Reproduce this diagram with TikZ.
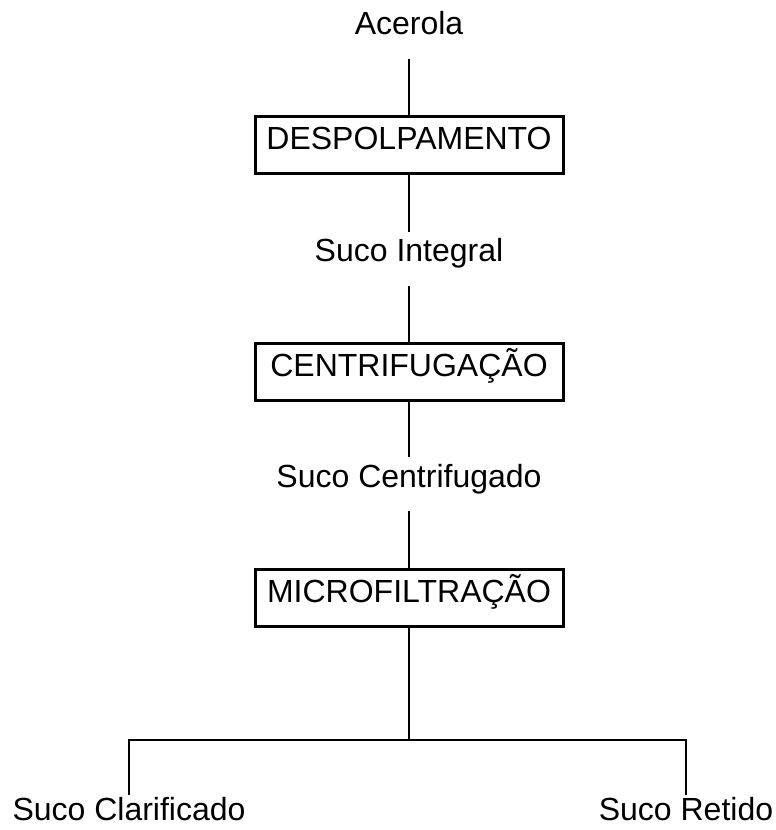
\documentclass[tikz,border=0pt]{standalone}
\usepackage{fontspec}
\setmainfont{Liberation Sans}
\usepackage{tikz}
\usetikzlibrary{calc}
\tikzstyle{tsText} = [
    text=black,
    font=\fontsize{24}{28}\selectfont
]
\tikzstyle{tsLabel} = [
    tsText,
    anchor=base,
    inner sep=0pt,
    text height=22.5pt,
    text depth=18pt
]
\tikzstyle{tsEndLabel} = [
    tsLabel,
    text height=18.75pt
]
\tikzstyle{tsBox} = [
    rectangle,
    tsText,
    anchor=base,
    draw=black,
    line width=2.25pt,
    inner xsep=0pt,
    inner ysep=0pt,
    minimum width=231pt,
    text height=24.75pt,
    text depth=18pt
]
\tikzstyle{tsLine} = [
    draw=black,
    line width=1.5pt
]

\begin{document}
\begin{tikzpicture}[x=0.75pt, y=-0.75pt]
        \useasboundingbox (0,0) rectangle (775,830);

        % Define nodes
        \node[tsLabel] (ace)    at (409,35)  {Acerola};
        \node[tsBox]   (desp)   at (409,150) {DESPOLPAMENTO};
        \node[tsLabel] (integ)  at (409,262) {Suco Integral};
        \node[tsBox]   (centri) at (409,376) {CENTRIFUGAÇÃO};
        \node[tsLabel] (cfug)   at (409,487) {Suco Centrifugado};
        \node[tsBox]   (micro)  at (409,602) {MICROFILTRAÇÃO};
        \node[tsEndLabel] (clar) at (129,820) {Suco Clarificado};
        \node[tsEndLabel] (ret)  at (686,820) {Suco Retido};
        \coordinate (split) at (409,740);

        \draw[tsLine] (ace.south) -- (desp.north);
        \draw[tsLine] (desp.south) -- (integ.north);
        \draw[tsLine] (integ.south) -- (centri.north);
        \draw[tsLine] (centri.south) -- (cfug.north);
        \draw[tsLine] (cfug.south) -- (micro.north);
        \draw[tsLine] (micro.south) -- (split);
        \draw[tsLine] (clar.north) |- (split) -| (ret.north);

    \end{tikzpicture}
\end{document}
